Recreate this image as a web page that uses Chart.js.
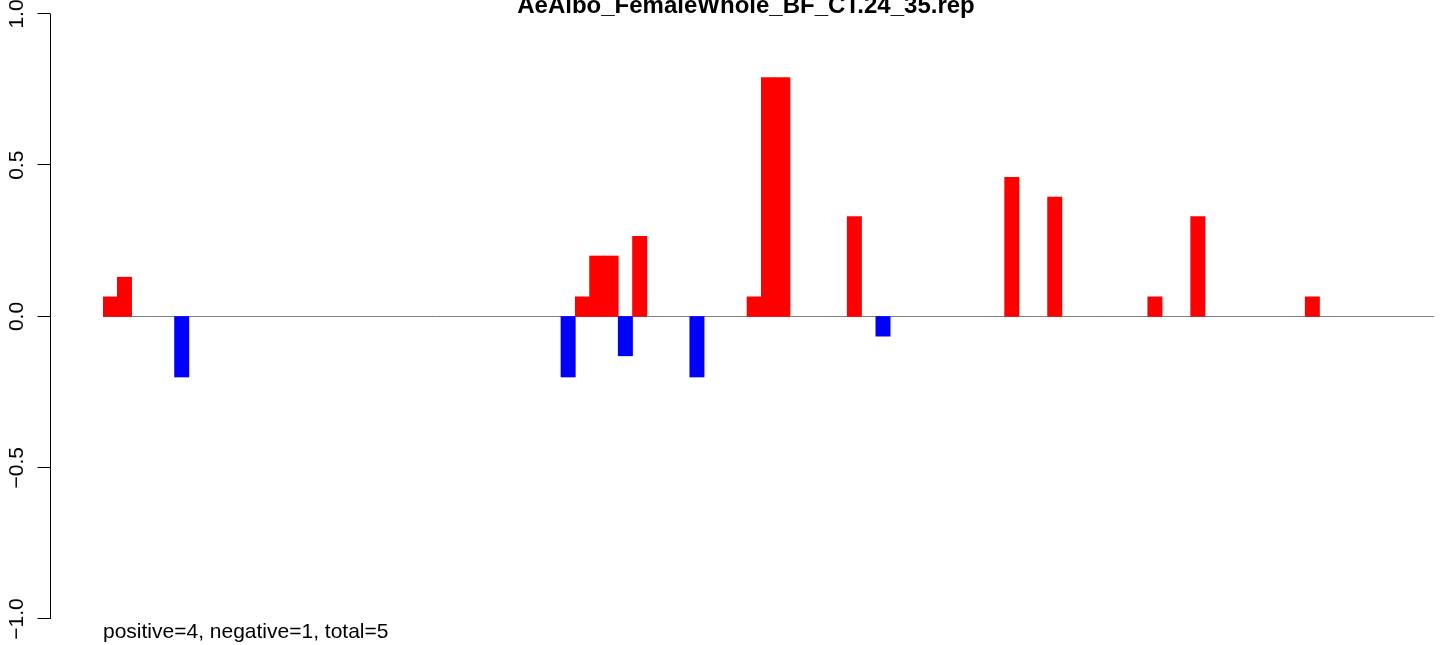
<!DOCTYPE html>
<html>
<head>
<meta charset="utf-8">
<script src="https://cdn.jsdelivr.net/npm/chart.js@4/dist/chart.umd.min.js"></script>
<style>
  html, body { margin: 0; padding: 0; background: #fff; }
  canvas { display: block; }
</style>
</head>
<body>
<canvas id="repChart" width="1444" height="645"></canvas>
<script>
// bar values, one per bin
var values = [
  0.065, 0.13, 0, 0, 0, -0.2, 0, 0, 0, 0,
  0, 0, 0, 0, 0, 0, 0, 0, 0, 0,
  0, 0, 0, 0, 0, 0, 0, 0, 0, 0,
  0, 0, -0.2, 0.065, 0.2, 0.2, -0.13, 0.265, 0, 0,
  0, -0.2, 0, 0, 0, 0.065, 0.79, 0.79, 0, 0,
  0, 0, 0.33, 0, -0.065, 0, 0, 0, 0, 0,
  0, 0, 0, 0.46, 0, 0, 0.395, 0, 0, 0,
  0, 0, 0, 0.065, 0, 0, 0.33, 0, 0, 0,
  0, 0, 0, 0, 0.065, 0, 0, 0, 0, 0,
  0, 0, 0
];
var bins = values.map(function (v, i) { return String(i + 1); });
var yTicks = [-1, -0.5, 0, 0.5, 1];
var yTickLabels = ["\u22121.0", "\u22120.5", "0.0", "0.5", "1.0"];
var title_ = "AeAlbo_FemaleWhole_BF_CT.24_35.rep";
var note_ = "positive=4, negative=1, total=5";

var FONT = '"Liberation Sans", Arial, Helvetica, sans-serif';

var rStyle = {
  id: "rStyle",
  beforeDatasetsDraw: function (chart) {
    var ctx = chart.ctx, a = chart.chartArea, y = chart.scales.y;
    var y0 = Math.round(y.getPixelForValue(0)) - 0.5;
    ctx.save();
    ctx.strokeStyle = "#808080";
    ctx.lineWidth = 1;
    ctx.beginPath();
    ctx.moveTo(a.left, y0);
    ctx.lineTo(a.right, y0);
    ctx.stroke();
    ctx.restore();
  },
  afterDraw: function (chart) {
    var ctx = chart.ctx, y = chart.scales.y;
    var axisX = 50.5;
    ctx.save();
    ctx.strokeStyle = "#000";
    ctx.lineWidth = 1;
    ctx.beginPath();
    ctx.moveTo(axisX, y.getPixelForValue(1));
    ctx.lineTo(axisX, y.getPixelForValue(-1));
    yTicks.forEach(function (t) {
      var py = Math.round(y.getPixelForValue(t)) - 0.5;
      ctx.moveTo(axisX, py);
      ctx.lineTo(axisX - 13, py);
    });
    ctx.stroke();

    // rotated tick labels
    ctx.fillStyle = "#000";
    ctx.font = "21px " + FONT;
    ctx.textAlign = "center";
    ctx.textBaseline = "alphabetic";
    yTicks.forEach(function (t, i) {
      ctx.save();
      ctx.translate(23, y.getPixelForValue(t));
      ctx.rotate(-Math.PI / 2);
      ctx.fillText(yTickLabels[i], 0, 0);
      ctx.restore();
    });

    // title
    ctx.font = "bold 24px " + FONT;
    ctx.textAlign = "center";
    ctx.fillText(title_, 746, 13);

    // note under the plot
    ctx.font = "21px " + FONT;
    ctx.textAlign = "left";
    ctx.fillText(note_, 103, 638);
    ctx.restore();
  }
};

new Chart("repChart", {
  type: "bar",
  data: {
    labels: bins,
    datasets: [{
      data: values,
      backgroundColor: function (c) {
        if (c.raw === 0) return "rgba(0,0,0,0)";
        return c.raw < 0 ? "#0000FF" : "#FF0000";
      },
      borderWidth: 0,
      barPercentage: 1,
      categoryPercentage: 1
    }]
  },
  options: {
    responsive: false,
    animation: false,
    devicePixelRatio: 1,
    layout: { padding: { left: 103, right: 10, top: 14, bottom: 26 } },
    scales: {
      x: { display: false },
      y: { display: false, min: -1, max: 1 }
    },
    plugins: {
      legend: { display: false },
      tooltip: { enabled: false }
    }
  },
  plugins: [rStyle]
});
</script>
</body>
</html>
